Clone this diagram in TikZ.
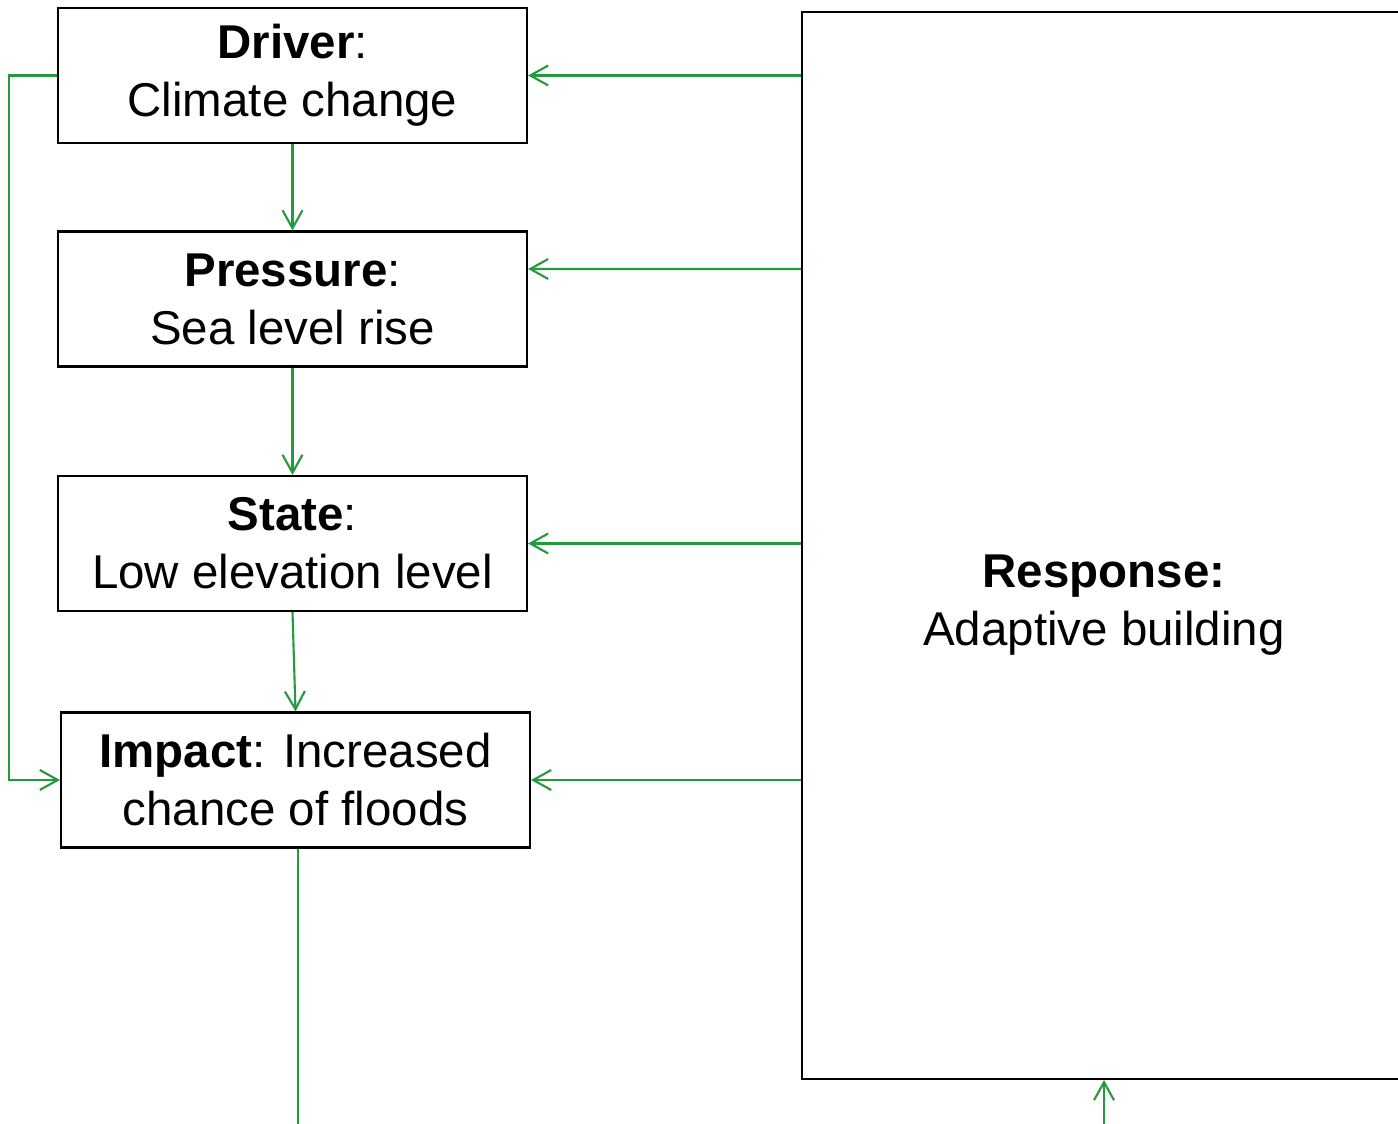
\documentclass[tikz,border=0pt]{standalone}
\usepackage{fontspec}
\setmainfont{Liberation Sans}
\usepackage{xcolor}
\usetikzlibrary{arrows.meta}

\definecolor{dpsigreen}{RGB}{34,154,62}

\begin{document}
\begin{tikzpicture}[thick]
  \tikzset{
    dbox/.style={rectangle, draw=black, line width=0.6pt,
                 minimum width=4.69cm, minimum height=1.35cm,
                 align=center, inner sep=0pt,
                 font=\fontsize{13.5}{16.5}\selectfont},
    gline/.style={draw=dpsigreen, line width=0.6pt},
    garr/.style={gline, -{Straight Barb[length=1.8mm, width=2.0mm]}}
  }
  \useasboundingbox (0,0) rectangle (13.98,11.24);
  \clip (0,0) rectangle (13.98,11.24);

  \node[dbox] at (2.925,10.485) (drv) {\textbf{Driver}:\\Climate change};
  \node[dbox] at (2.925, 8.250) (prs) {\textbf{Pressure}:\\Sea level rise};
  \node[dbox] at (2.925, 5.805) (sta) {\textbf{State}:\\Low elevation level};
  \node[dbox] at (2.955, 3.440) (imp) {\textbf{Impact}: Increased\\chance of floods};

  \node[dbox, minimum width=6.04cm, minimum height=10.67cm]
        at (11.04,5.785) (resp) {};
  \node[align=center, font=\fontsize{13.5}{16.5}\selectfont]
        at (11.04,5.19) (resptxt) {\textbf{Response:}\\Adaptive building};

  \coordinate (out) at (2.98,0);
  \coordinate (in)  at (11.04,0);

  % chain down the left column
  \draw[garr] (drv.south) -- (prs.north);
  \draw[garr] (prs.south) -- (sta.north);
  \draw[garr] (sta.south) -- (imp.north);
  \draw[gline] (imp.south -| out) -- (out);

  % driver straight to impact
  \draw[garr] (drv.west) -- ++(-0.48,0) |- (imp.west);

  % response acts on every box
  \draw[garr] (resp.west |- drv.east) -- (drv.east);
  \draw[garr] (resp.west |- prs.east) ++(0,0.3) -- ([yshift=3mm]prs.east);
  \draw[garr] (resp.west |- sta.east) -- (sta.east);
  \draw[garr] (resp.west |- imp.east) -- (imp.east);

  \draw[garr] (in) -- (resp.south);
\end{tikzpicture}
\end{document}
